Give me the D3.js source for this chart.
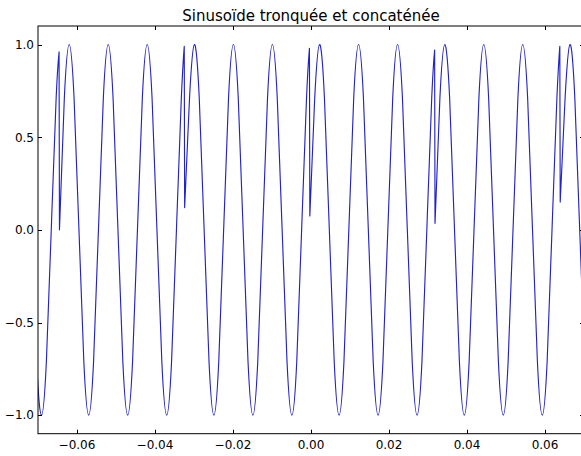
<!DOCTYPE html>
<html>
<head>
<meta charset="utf-8">
<script src="https://cdnjs.cloudflare.com/ajax/libs/d3/7.8.5/d3.min.js"></script>
<style>
  html, body { margin: 0; padding: 0; background: #fff; overflow: hidden; }
  svg { display: block; font-family: "DejaVu Sans", sans-serif; }
</style>
</head>
<body>
<svg id="chart" width="581" height="456"></svg>
<script>
// ---- data ----
const title = "Sinusoïde tronquée et concaténée";
// start time of each concatenated block (s)
const blockStarts = [-0.0966, -0.0645, -0.0324, -0.0003, 0.0318, 0.0639];
const blockLength = 0.0321;
// shape of one truncated block: times within the block and values
const shapeT = [0, 0.00125, 0.0025, 0.00375, 0.005, 0.00625, 0.0075, 0.00875,
                0.01, 0.01125, 0.0125, 0.01375, 0.015, 0.01625, 0.0175, 0.01875,
                0.02, 0.02125, 0.0225, 0.02375, 0.025, 0.02625, 0.0275, 0.02875,
                0.03, 0.03125];
const shapeY = [0, 0.71, 1, 0.71, 0, -0.71, -1, -0.71,
                0, 0.71, 1, 0.71, 0, -0.71, -1, -0.71,
                0, 0.71, 1, 0.71, 0, -0.71, -1, -0.71,
                0, 0.71];
// value right after each junction and at the tip just before it
const firstValues = [0.0, 0.0, 0.12, 0.075, 0.035, 0.15];
const lastValues  = [0.96, 0.99, 0.98, 0.97, 0.99, 0.97];
const xTicks = [-0.06, -0.04, -0.02, 0.0, 0.02, 0.04, 0.06];
const yTicks = [-1.0, -0.5, 0.0, 0.5, 1.0];
const xDomain = [-0.07, 0.07];
const yDomain = [-1.1, 1.1];

// ---- layout ----
const W = 581, H = 456;
const plot = { left: 38, right: 584, top: 26, bottom: 433.7 };
const svg = d3.select("#chart");

const x = d3.scaleLinear().domain(xDomain).range([plot.left, plot.right]);
const y = d3.scaleLinear().domain(yDomain).range([plot.bottom, plot.top]);

// build blocks
const blocks = blockStarts.map((s, i) => {
  const pts = [{ t: s, v: firstValues[i] }];
  for (let k = 1; k < shapeT.length; k++) pts.push({ t: s + shapeT[k], v: shapeY[k] });
  pts.push({ t: s + blockLength - 0.0001, v: lastValues[i] });
  return pts;
});

svg.append("defs").append("clipPath").attr("id", "clip")
  .append("rect")
  .attr("x", plot.left).attr("y", plot.top)
  .attr("width", plot.right - plot.left).attr("height", plot.bottom - plot.top);

const line = d3.line().x(d => x(d.t)).y(d => y(d.v)).curve(d3.curveNatural);
const pathD = blocks.map((b, i) => {
  const s = line(b);
  return i ? s.replace(/^M/, "L") : s;
}).join("");

svg.append("path")
  .attr("clip-path", "url(#clip)")
  .attr("d", pathD)
  .attr("fill", "none")
  .attr("stroke", "#2222cc")
  .attr("stroke-width", 1.15)
  .attr("stroke-linejoin", "round")
  .attr("stroke-linecap", "round");

// spines
svg.append("rect")
  .attr("x", plot.left).attr("y", plot.top)
  .attr("width", plot.right - plot.left).attr("height", plot.bottom - plot.top)
  .attr("fill", "none").attr("stroke", "#000").attr("stroke-width", 1);

const tickLen = 4;
const tg = svg.append("g").attr("stroke", "#000").attr("stroke-width", 1);
xTicks.forEach(v => {
  const px = Math.round(x(v)) + 0.5;
  tg.append("line").attr("x1", px).attr("x2", px).attr("y1", plot.bottom).attr("y2", plot.bottom - tickLen);
  tg.append("line").attr("x1", px).attr("x2", px).attr("y1", plot.top).attr("y2", plot.top + tickLen);
});
yTicks.forEach(v => {
  const py = Math.round(y(v)) + 0.5;
  tg.append("line").attr("x1", plot.left).attr("x2", plot.left + tickLen).attr("y1", py).attr("y2", py);
  tg.append("line").attr("x1", plot.right).attr("x2", plot.right - tickLen).attr("y1", py).attr("y2", py);
});

const fx = d3.format(".2f"), fy = d3.format(".1f");
svg.append("g").selectAll("text").data(xTicks).join("text")
  .attr("x", d => x(d)).attr("y", 449.3)
  .attr("text-anchor", "middle")
  .attr("font-size", 12).attr("fill", "#000")
  .text(d => fx(d));
svg.append("g").selectAll("text").data(yTicks).join("text")
  .attr("x", plot.left - 4).attr("y", d => y(d))
  .attr("dy", "0.36em")
  .attr("text-anchor", "end")
  .attr("font-size", 12).attr("fill", "#000")
  .text(d => fy(d));

svg.append("text")
  .attr("x", (plot.left + plot.right) / 2).attr("y", 21)
  .attr("text-anchor", "middle")
  .attr("font-size", 15).attr("fill", "#000")
  .text(title);
</script>
</body>
</html>
